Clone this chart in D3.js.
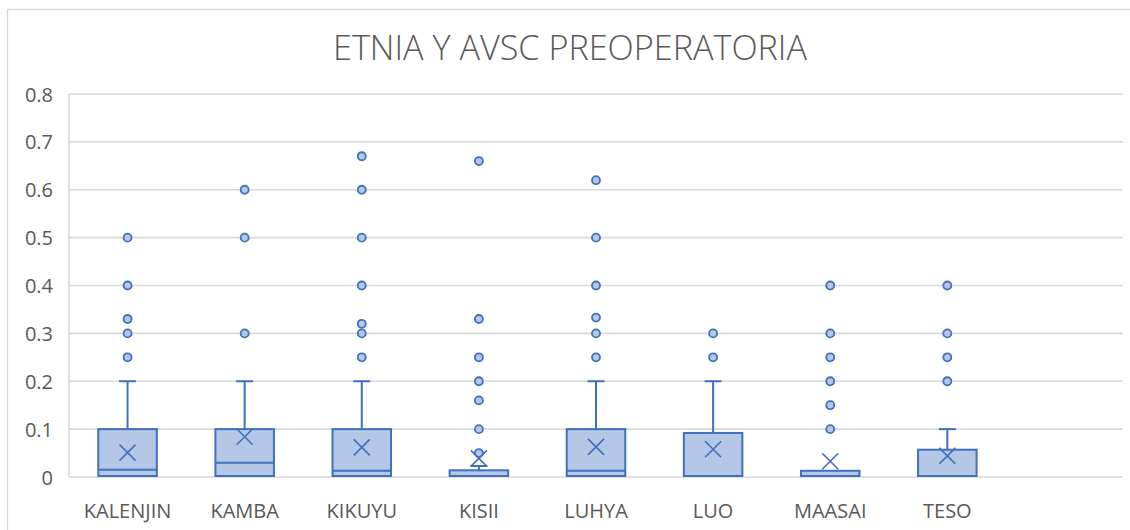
<!DOCTYPE html>
<html>
<head>
<meta charset="utf-8">
<script src="https://cdn.jsdelivr.net/npm/d3@7"></script>
<style>
  body { margin: 0; background: #fff; }
  svg { display: block; }
</style>
</head>
<body>
<div id="chart"></div>
<script>
// categorias (la ultima columna queda vacia, como en el original)
var categories = ["KALENJIN", "KAMBA", "KIKUYU", "KISII", "LUHYA", "LUO", "MAASAI", "TESO"];
var q1 = [0, 0, 0, 0, 0, 0, 0, 0];
var medians = [0.015, 0.03, 0.013, 0, 0.013, 0, 0, 0];
var q3 = [0.1, 0.1, 0.1, 0.014, 0.1, 0.092, 0.013, 0.057];
var whiskerLow = [0, 0, 0, 0, 0, 0, 0, 0];
var whiskerHigh = [0.2, 0.2, 0.2, 0.023, 0.2, 0.2, 0.013, 0.1];
var means = [0.051, 0.084, 0.062, 0.039, 0.063, 0.058, 0.033, 0.044];
var outliers = [
  [0.25, 0.3, 0.33, 0.4, 0.5],
  [0.3, 0.5, 0.6],
  [0.25, 0.3, 0.32, 0.4, 0.5, 0.6, 0.67],
  [0.05, 0.1, 0.16, 0.2, 0.25, 0.33, 0.66],
  [0.25, 0.3, 0.333, 0.4, 0.5, 0.62],
  [0.25, 0.3],
  [0.1, 0.15, 0.2, 0.25, 0.3, 0.4],
  [0.2, 0.25, 0.3, 0.4]
];
var yTicks = [0, 0.1, 0.2, 0.3, 0.4, 0.5, 0.6, 0.7, 0.8];
var title = "ETNIA Y AVSC PREOPERATORIA";

var w = 1130, h = 530;
var margin = {top: 94, right: 7, bottom: 53, left: 69};
var stroke = "#4170bd", fill = "#b4c7e7", grid = "#d9d9d9", textCol = "#595959";

var svg = d3.select("#chart").append("svg")
    .attr("width", w)
    .attr("height", h);

// marco exterior del grafico
svg.append("rect")
    .attr("x", 7.5).attr("y", 9.5)
    .attr("width", w + 20).attr("height", h + 20)
    .attr("fill", "none")
    .attr("stroke", grid)
    .attr("stroke-width", 1.3);

svg.append("text")
    .attr("x", 570)
    .attr("y", 60)
    .attr("text-anchor", "middle")
    .attr("font-family", "'Open Sans', sans-serif")
    .attr("font-weight", 300)
    .attr("font-size", "34px")
    .attr("fill", textCol)
    .attr("textLength", 474)
    .attr("lengthAdjust", "spacingAndGlyphs")
    .text(title);

var xScale = d3.scaleBand()
    .domain(categories.concat([""]))
    .range([margin.left, w - margin.right]);

var yScale = d3.scaleLinear()
    .domain([0, 0.8])
    .range([h - margin.bottom, margin.top]);

// lineas de cuadricula
svg.append("g")
    .selectAll("line")
    .data(yTicks)
    .enter()
    .append("line")
    .attr("x1", margin.left)
    .attr("x2", w - margin.right)
    .attr("y1", function(d) { return yScale(d); })
    .attr("y2", function(d) { return yScale(d); })
    .attr("stroke", grid)
    .attr("stroke-width", 1.6);

svg.append("line")
    .attr("x1", margin.left).attr("x2", margin.left)
    .attr("y1", yScale(0.8)).attr("y2", yScale(0))
    .attr("stroke", grid)
    .attr("stroke-width", 1.6);

// eje Y
var yAxis = svg.append("g")
    .attr("transform", "translate(" + (margin.left - 16) + ",0)")
    .call(d3.axisLeft(yScale).tickValues(yTicks).tickSize(0).tickFormat(function(d) { return d3.format("")(+d.toFixed(1)); }));
yAxis.select(".domain").remove();
yAxis.selectAll("text")
    .attr("font-family", "'Open Sans', sans-serif")
    .attr("font-size", "20px")
    .attr("fill", textCol)
    .attr("x", 0)
    .attr("dy", "0.35em");

// eje X
var xAxis = svg.append("g")
    .attr("transform", "translate(0," + yScale(0) + ")")
    .call(d3.axisBottom(xScale).tickSize(0));
xAxis.select(".domain").remove();
xAxis.selectAll("text")
    .attr("font-family", "'Open Sans', sans-serif")
    .attr("font-size", "20px")
    .attr("fill", textCol)
    .attr("y", 0)
    .attr("dy", "41px");

var bw = xScale.bandwidth();
var boxW = bw * 0.5;
var capW = 17;

var groups = svg.append("g").selectAll("g")
    .data(categories)
    .enter()
    .append("g")
    .attr("transform", function(d) { return "translate(" + (xScale(d) + bw / 2) + ",0)"; });

// bigotes
groups.each(function(d, i) {
  var g = d3.select(this);
  if (whiskerHigh[i] > q3[i]) {
    g.append("line")
      .attr("x1", 0).attr("x2", 0)
      .attr("y1", yScale(q3[i])).attr("y2", yScale(whiskerHigh[i]))
      .attr("stroke", stroke).attr("stroke-width", 2);
    g.append("line")
      .attr("x1", -capW / 2).attr("x2", capW / 2)
      .attr("y1", yScale(whiskerHigh[i])).attr("y2", yScale(whiskerHigh[i]))
      .attr("stroke", stroke).attr("stroke-width", 2);
  }
  if (whiskerLow[i] < q1[i]) {
    g.append("line")
      .attr("x1", 0).attr("x2", 0)
      .attr("y1", yScale(q1[i])).attr("y2", yScale(whiskerLow[i]))
      .attr("stroke", stroke).attr("stroke-width", 2);
  }
});

// cajas
groups.append("rect")
    .attr("x", -boxW / 2)
    .attr("y", function(d, i) { return yScale(q3[i]); })
    .attr("width", boxW)
    .attr("height", function(d, i) { return yScale(q1[i]) - yScale(q3[i]) - 1; })
    .attr("fill", fill)
    .attr("stroke", stroke)
    .attr("stroke-width", 2);

// medianas
groups.append("line")
    .attr("x1", -boxW / 2).attr("x2", boxW / 2)
    .attr("y1", function(d, i) { return Math.min(yScale(medians[i]), yScale(0) - 1); })
    .attr("y2", function(d, i) { return Math.min(yScale(medians[i]), yScale(0) - 1); })
    .attr("stroke", stroke)
    .attr("stroke-width", 2);

// valores atipicos
groups.each(function(d, i) {
  d3.select(this).selectAll("circle")
    .data(outliers[i])
    .enter()
    .append("circle")
    .attr("cx", 0)
    .attr("cy", function(v) { return yScale(v); })
    .attr("r", 4)
    .attr("fill", fill)
    .attr("stroke", stroke)
    .attr("stroke-width", 1.8);
});

// media (X)
var ms = 8;
groups.append("path")
    .attr("d", function(d, i) {
      var y = yScale(means[i]);
      return "M" + (-ms) + "," + (y - ms) + "L" + ms + "," + (y + ms) +
             "M" + ms + "," + (y - ms) + "L" + (-ms) + "," + (y + ms);
    })
    .attr("fill", "none")
    .attr("stroke", stroke)
    .attr("stroke-width", 1.6);
</script>
</body>
</html>
